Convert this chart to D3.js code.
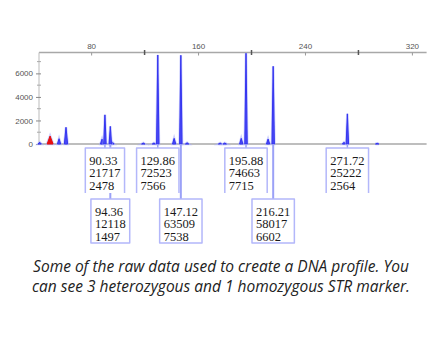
<!DOCTYPE html>
<html>
<head>
<meta charset="utf-8">
<script src="https://cdn.jsdelivr.net/npm/d3@7"></script>
<style>
  body { margin: 0; background: #fff; }
  svg { display: block; }
  .tick text { font-family: "Liberation Sans", Arial, sans-serif; font-size: 8px; fill: #555; }
  .caption { font-family: "Open Sans", sans-serif; font-style: italic; font-size: 15.5px; fill: #222; }
  .peak_label { font-family: "Liberation Serif", "Times New Roman", serif; font-size: 12.5px; fill: #1a1a1a; }
</style>
</head>
<body>
<svg id="chart" width="440" height="352"></svg>
<script>
// called alleles: size (bp), peak area, peak height (RFU)
var allele_sizes = [90.33, 94.36, 129.86, 147.12, 195.88, 216.21, 271.72];
var allele_areas = [21717, 12118, 72523, 63509, 74663, 58017, 25222];
var allele_heights = [2478, 1497, 7566, 7538, 7715, 6602, 2564];

// stutter / noise peaks (blue channel)
var minor_sizes = [41.5, 56, 61.2, 88.2, 96, 119, 127, 142.1, 151.8, 176.5, 180, 192.3, 212.4, 269.2, 294];
var minor_heights = [150, 450, 1420, 420, 150, 80, 80, 480, 100, 80, 80, 480, 420, 150, 60];

// size standard peak (red)
var std_sizes = [49.3];
var std_heights = [680];

var x_ticks = [80, 160, 240, 320];
var x_minor_ticks = [120, 200, 280];
var y_ticks = [0, 2000, 4000, 6000];
var y_minor_ticks = [1000, 3000, 5000, 7000];

var caption_lines = [
    "Some of the raw data used to create a DNA profile. You",
    "can see 3 heterozygous and 1 homozygous STR marker."
];

function build_chart() {
    var svg = d3.select("svg#chart");

    const LEFT = 39, RIGHT = 426.6, TOP = 52.5, BASE = 144;

    var xscale = d3.scaleLinear()
        .domain([41, 331])
        .range([LEFT, RIGHT]);

    var yscale = d3.scaleLinear()
        .domain([0, 7775])
        .range([BASE, TOP]);

    // top axis (size in bp)
    svg.append("line")
        .attr("x1", LEFT).attr("x2", RIGHT)
        .attr("y1", TOP).attr("y2", TOP)
        .attr("stroke", "#a8a8a8").attr("stroke-width", 1.5);

    var xaxis = d3.axisTop(xscale)
        .tickValues(x_ticks)
        .tickSize(-3)
        .tickPadding(4);
    var gx = svg.append("g")
        .attr("class", "xaxis")
        .attr("transform", "translate(0," + TOP + ")")
        .call(xaxis);
    gx.select(".domain").remove();
    gx.selectAll(".tick line").attr("stroke", "#999");

    svg.append("g").selectAll("line")
        .data(x_minor_ticks)
        .join("line")
        .attr("x1", d => xscale(d)).attr("x2", d => xscale(d))
        .attr("y1", TOP - 2.5).attr("y2", TOP + 2.5)
        .attr("stroke", "#555").attr("stroke-width", 1.5);

    // left axis (RFU)
    svg.append("line")
        .attr("x1", LEFT).attr("x2", LEFT)
        .attr("y1", TOP).attr("y2", BASE)
        .attr("stroke", "#bbb").attr("stroke-width", 1);

    var yaxis = d3.axisLeft(yscale)
        .tickValues(y_ticks)
        .tickFormat(d3.format("d"))
        .tickSize(3)
        .tickPadding(3);
    var gy = svg.append("g")
        .attr("class", "yaxis")
        .attr("transform", "translate(" + LEFT + ",0)")
        .call(yaxis);
    gy.select(".domain").remove();
    gy.selectAll(".tick line").attr("stroke", "#888").attr("x2", 2).attr("x1", -3);

    svg.append("g").selectAll("line")
        .data(y_minor_ticks)
        .join("line")
        .attr("x1", LEFT - 2).attr("x2", LEFT + 2)
        .attr("y1", d => yscale(d)).attr("y2", d => yscale(d))
        .attr("stroke", "#aaa");

    // baseline
    svg.append("line")
        .attr("x1", LEFT).attr("x2", RIGHT)
        .attr("y1", BASE).attr("y2", BASE)
        .attr("stroke", "#a8a8a8").attr("stroke-width", 1.5);

    // peak shape: a narrow spike around each size
    function peak_points(size, height, half) {
        return [[size - half, 0], [size, height], [size + half, 0]];
    }
    var peak_area = d3.area()
        .x(d => xscale(d[0]))
        .y0(BASE)
        .y1(d => yscale(d[1]));

    var peaks = svg.append("g").attr("class", "peaks");

    function draw_peaks(sizes, heights, half, fill, stroke) {
        sizes.forEach(function(size, i) {
            var pts = peak_points(size, heights[i], half);
            peaks.append("path")
                .attr("d", peak_area(pts))
                .attr("fill", fill)
                .attr("stroke", "#a9adfb")
                .attr("stroke-opacity", 0.6)
                .attr("stroke-width", 2.5);
            peaks.append("path")
                .attr("d", peak_area(pts))
                .attr("fill", fill)
                .attr("stroke", stroke)
                .attr("stroke-width", 1);
        });
    }
    draw_peaks(minor_sizes, minor_heights, 1.2, "#4a4af5", "#3535f0");
    draw_peaks(allele_sizes, allele_heights, 0.9, "#4a4af5", "#3535f0");
    draw_peaks(std_sizes, std_heights, 2.2, "#e81010", "#e81010");

    // label boxes
    const ROW_TOP = [148, 199];
    const ROW_BOTTOM = [193, 243];
    const LINE_GAP = 12.3;

    // connectors from each peak down to its box, drawn under the boxes
    var connectors = svg.append("g").attr("class", "connectors");
    var labels = svg.append("g").attr("class", "labels");

    allele_sizes.forEach(function(size, i) {
        var row = i % 2;
        var cx = xscale(size);

        connectors.append("line")
            .attr("x1", cx).attr("x2", cx)
            .attr("y1", BASE).attr("y2", ROW_TOP[row])
            .attr("stroke", "#9ba1f7")
            .attr("stroke-width", row == 1 ? 2 : 1.5);

        var g = labels.append("g");
        var box = g.append("path");

        var lines = [size.toFixed(2), allele_areas[i], allele_heights[i]];
        var texts = g.selectAll("text")
            .data(lines)
            .join("text")
            .attr("class", "peak_label")
            .attr("y", (d, j) => ROW_TOP[row] + 17 + j * LINE_GAP)
            .text(d => d);

        var w = d3.max(texts.nodes(), n => n.getComputedTextLength()) + 8;
        var left = cx - w / 2;
        texts.attr("x", left + 4);

        var top = ROW_TOP[row], bottom = ROW_BOTTOM[row];
        var p = d3.path();
        if (row == 0) {
            // upper boxes are open at the bottom
            p.moveTo(left, bottom);
            p.lineTo(left, top);
            p.lineTo(left + w, top);
            p.lineTo(left + w, bottom);
        } else {
            p.rect(left, top, w, bottom - top);
        }
        box.attr("d", p.toString())
            .attr("fill", "#fff")
            .attr("stroke", "#b3b7fa")
            .attr("stroke-width", 1.5)
            .attr("stroke-linejoin", "round");
    });

    // caption
    svg.append("g").selectAll("text")
        .data(caption_lines)
        .join("text")
        .attr("class", "caption")
        .attr("x", 221)
        .attr("y", (d, i) => 272 + i * 20)
        .attr("text-anchor", "middle")
        .text(d => d);
}

build_chart();
</script>
</body>
</html>
